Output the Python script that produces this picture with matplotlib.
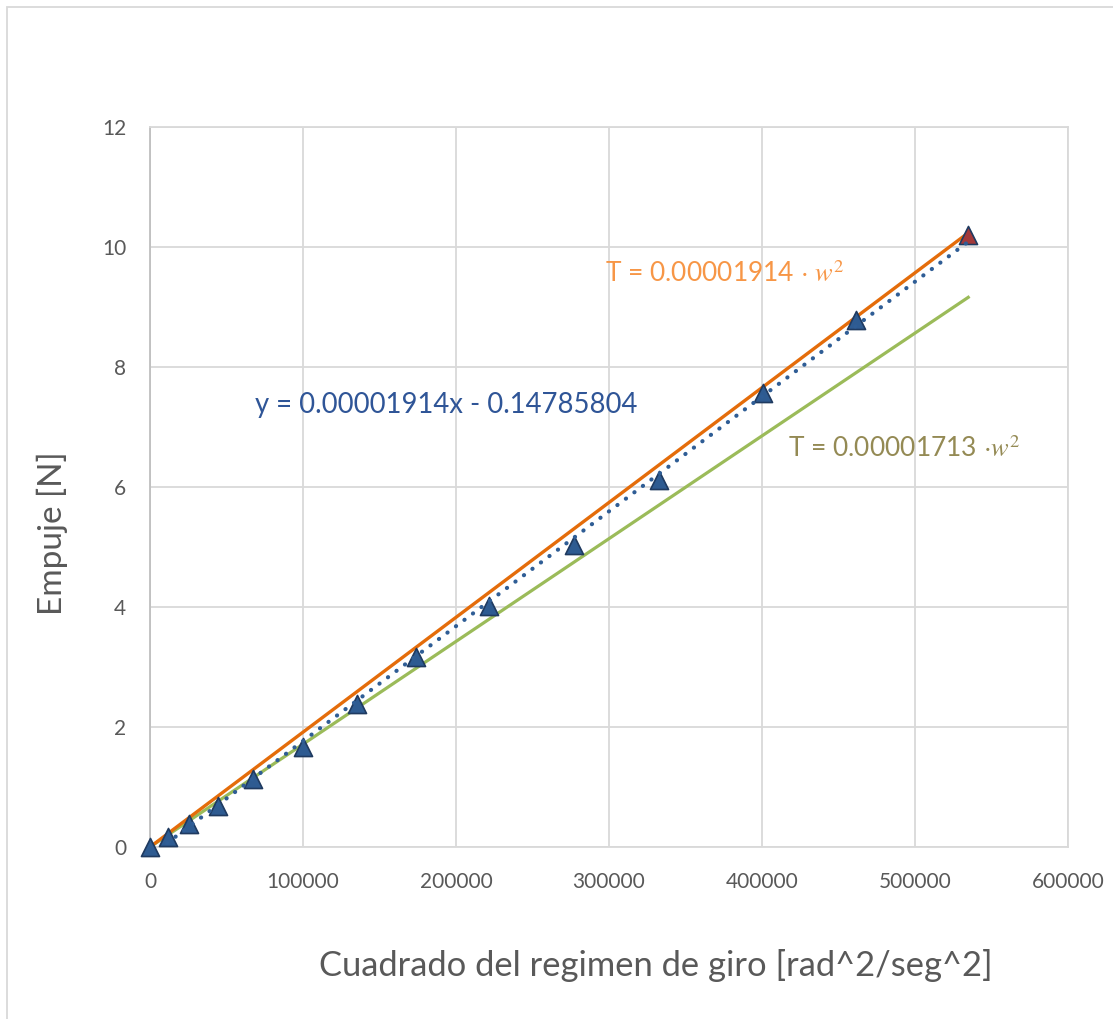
import numpy as np
import matplotlib
matplotlib.use('Agg')
import matplotlib.pyplot as plt
from matplotlib.patches import Rectangle

plt.rcParams['font.family'] = ['Lato', 'DejaVu Sans']
plt.rcParams['mathtext.fontset'] = 'stix'

# squared rotor speed [rad^2/s^2] and measured thrust [N]
w2 = [0, 11700, 25400, 44300, 67200, 99800, 135000, 174100,
      221700, 277200, 332600, 400400, 461700, 534800]
thrust = [0.0, 0.17, 0.38, 0.68, 1.13, 1.66, 2.38, 3.16,
          4.01, 5.04, 6.12, 7.57, 8.79, 10.20]

# thrust coefficients
k_fit = 0.00001914
b_fit = -0.14785804
k_theory = 0.00001713

x_ticks = [0, 100000, 200000, 300000, 400000, 500000, 600000]
y_ticks = [0, 2, 4, 6, 8, 10, 12]

W, H = 1113, 1019
fig = plt.figure(figsize=(W / 100, H / 100), dpi=100)
ax = fig.add_axes([150 / W, 1 - 847 / H, 918 / W, 720 / H])

x = np.array(w2, dtype=float)
y = np.array(thrust)

ax.plot(x, k_theory * x, color='#9BBB59', lw=2.3, zorder=3)
ax.plot(x, k_fit * x, color='#E46C0A', lw=2.4, zorder=3)
ax.scatter(x[:-1], y[:-1], marker='^', s=13 ** 2, color='#2E5B91',
           edgecolor='#1F3A60', linewidth=1.2, zorder=4, clip_on=False)
ax.scatter(x[-1:], y[-1:], marker='^', s=13 ** 2, color='#A3393A',
           edgecolor='#1F3A60', linewidth=1.2, zorder=4, clip_on=False)
ax.plot(x, k_fit * x + b_fit, color='#2F5D95', lw=3.0,
        linestyle=(0, (0.05, 2.5)), dash_capstyle='round', zorder=5)

ax.set_xlim(0, 600000)
ax.set_ylim(0, 12)
ax.set_xticks(x_ticks)
ax.set_yticks(y_ticks)
ax.set_xticklabels([str(t) for t in x_ticks])
ax.set_yticklabels([str(t) for t in y_ticks])
ax.tick_params(length=0, labelsize=15, labelcolor='#595959')
ax.tick_params(axis='x', pad=18)
ax.tick_params(axis='y', pad=17)
ax.grid(True, color='#D9D9D9', lw=1.3, zorder=0)
ax.set_axisbelow(True)
for side, sp in ax.spines.items():
    sp.set_color('#D9D9D9')
    sp.set_linewidth(1.3)
ax.spines['left'].set_color('#BFBFBF')

ax.text(297400, 9.42, r'T = 0.00001914 $\cdot$ $w^2$', color='#F79646',
        fontsize=19, va='baseline', ha='left', zorder=6)
ax.text(68600, 7.23, 'y = 0.00001914x - 0.14785804', color='#2F5597',
        fontsize=19.8, va='baseline', ha='left', zorder=6)
ax.text(417000, 6.5, r'T = 0.00001713 $\cdot w^2$', color='#948A54',
        fontsize=19, va='baseline', ha='left', zorder=6)

fig.text(656 / W, 1 - 965 / H, 'Cuadrado del regimen de giro [rad^2/seg^2]',
         fontsize=24.8, color='#595959', ha='center', va='center')
fig.text(52 / W, 1 - 533 / H, 'Empuje [N]', fontsize=24, color='#595959',
         rotation=90, ha='center', va='center')

# chart area border
fig.patches.append(Rectangle((7 / W, -0.05), 1.1, 1 - 7 / H + 0.05,
                             transform=fig.transFigure, fill=False,
                             edgecolor='#D9D9D9', lw=1.3))

fig.savefig('out.png', dpi=100)
